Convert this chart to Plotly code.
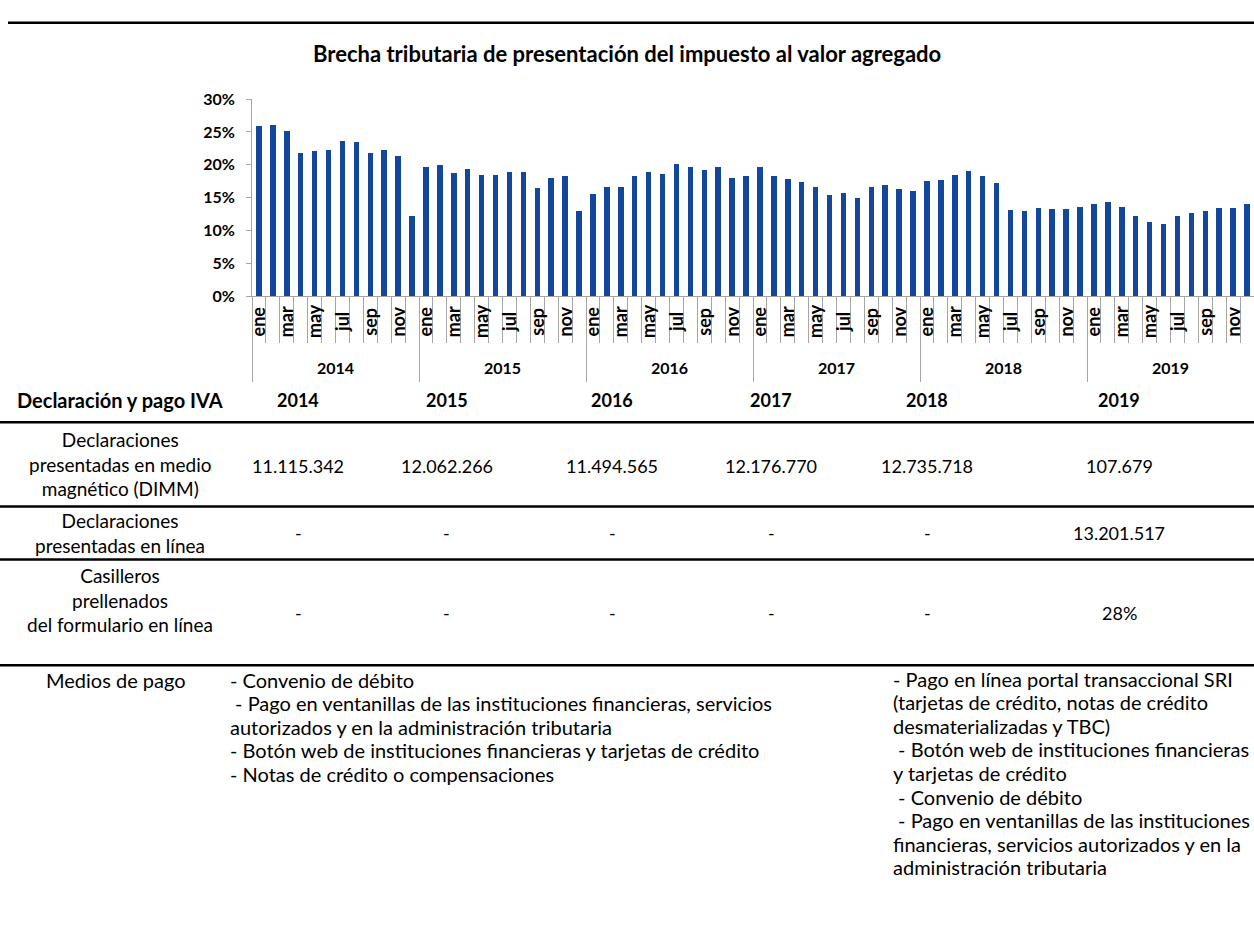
import plotly.graph_objects as go

W, H = 1254, 925

# ---------------- data ----------------
years = ["2014", "2015", "2016", "2017", "2018", "2019"]
months = ["ene", "feb", "mar", "abr", "may", "jun", "jul", "ago", "sep", "oct", "nov", "dic"]
month_labels_shown = ["ene", "", "mar", "", "may", "", "jul", "", "sep", "", "nov", ""]

gap_2014 = [25.85, 26.05, 25.2, 21.8, 22.1, 22.25, 23.55, 23.45, 21.8, 22.25, 21.35, 12.1]
gap_2015 = [19.65, 19.9, 18.75, 19.35, 18.4, 18.45, 18.85, 18.95, 16.45, 17.9, 18.3, 13.0]
gap_2016 = [15.5, 16.55, 16.55, 18.2, 18.95, 18.6, 20.1, 19.65, 19.25, 19.65, 18.0, 18.3]
gap_2017 = [19.7, 18.3, 17.8, 17.3, 16.55, 15.4, 15.7, 14.9, 16.65, 16.85, 16.25, 15.95]
gap_2018 = [17.5, 17.6, 18.45, 19.05, 18.2, 17.25, 13.1, 13.0, 13.4, 13.2, 13.2, 13.6]
gap_2019 = [14.0, 14.25, 13.55, 12.15, 11.3, 10.9, 12.2, 12.65, 13.0, 13.4, 13.4, 14.0]

y_ticks = [0, 0.05, 0.10, 0.15, 0.20, 0.25, 0.30]

title_text = "Brecha tributaria de presentación del impuesto al valor agregado"

table_header = "Declaración y pago IVA"
row_labels = [
    "Declaraciones<br>presentadas en medio<br>magnético (DIMM)",
    "Declaraciones<br>presentadas en línea",
    "Casilleros<br>prellenados<br>del formulario en línea<br> ",
]
row_dimm = ["11.115.342", "12.062.266", "11.494.565", "12.176.770", "12.735.718", "107.679"]
row_online = ["-", "-", "-", "-", "-", "13.201.517"]
row_prefilled = ["-", "-", "-", "-", "-", "28%"]

medios_label = "Medios de pago"
medios_2014_2018 = [
    "- Convenio de débito",
    "\u00a0- Pago en ventanillas de las instituciones financieras, servicios",
    "autorizados y en la administración tributaria",
    "- Botón web de instituciones financieras y tarjetas de crédito",
    "- Notas de crédito o compensaciones",
]
medios_2019 = [
    "- Pago en línea portal transaccional SRI",
    "(tarjetas de crédito, notas de crédito",
    "desmaterializadas y TBC)",
    "\u00a0- Botón web de instituciones financieras",
    "y tarjetas de crédito",
    "\u00a0- Convenio de débito",
    "\u00a0- Pago en ventanillas de las instituciones",
    "financieras, servicios autorizados y en la",
    "administración tributaria",
]

# ---------------- helpers ----------------
def px(x):
    return x / W

def py(y):
    return 1 - y / H

FONT = "Lato"
BAR = "#12479B"
GRAY = "#A6A6A6"

all_gap = gap_2014 + gap_2015 + gap_2016 + gap_2017 + gap_2018 + gap_2019
values = [v / 100 for v in all_gap]
xs = list(range(len(values)))

fig = go.Figure()
fig.add_trace(go.Bar(x=xs, y=values, marker=dict(color=BAR, line=dict(width=0)),
                     width=0.4, hoverinfo="y"))

year_bounds = [12 * k - 0.5 for k in range(len(years) + 1)]
month_bounds = [i - 0.5 for i in range(len(values) + 1)]

fig.update_layout(
    width=W, height=H,
    margin=dict(l=0, r=0, t=0, b=0),
    paper_bgcolor="white", plot_bgcolor="white",
    showlegend=False,
    bargap=0,
    xaxis=dict(
        domain=[px(252), 1.0], range=[-0.5, len(values) - 0.5],
        showline=True, linecolor=GRAY, linewidth=1,
        showgrid=False, zeroline=False,
        tickmode="array", tickvals=year_bounds, ticks="outside",
        ticklen=85, tickcolor=GRAY, tickwidth=1, showticklabels=False,
        minor=dict(tickmode="array", tickvals=month_bounds, ticks="outside",
                   ticklen=46, tickcolor=GRAY, tickwidth=1),
        fixedrange=True,
    ),
    yaxis=dict(
        domain=[py(292), py(91)], range=[0, 0.30],
        showline=True, linecolor=GRAY, linewidth=1,
        showgrid=False, zeroline=False,
        tickmode="array", tickvals=y_ticks, tickformat=".0%",
        ticks="outside", ticklen=5, tickcolor=GRAY,
        tickfont=dict(family=FONT, size=16, color="black", weight="bold"),
        ticklabelstandoff=8,
        fixedrange=True,
    ),
)

ann = []
# title
ann.append(dict(text=title_text, x=0.5, y=py(44), xref="paper", yref="paper",
                xanchor="center", yanchor="middle", showarrow=False,
                font=dict(family=FONT, size=22, color="black", weight="bold")))

# month labels
for k in range(len(years)):
    for m, lab in enumerate(month_labels_shown):
        if lab:
            ann.append(dict(text=lab, x=12 * k + m, y=py(318), xref="x", yref="paper",
                            xanchor="center", yanchor="middle", textangle=-90,
                            showarrow=False,
                            font=dict(family=FONT, size=18, color="black", weight="bold")))
# year labels
for k, yr in enumerate(years):
    ann.append(dict(text=yr, x=12 * k + 5.5, y=py(365), xref="x", yref="paper",
                    xanchor="center", yanchor="middle", showarrow=False,
                    font=dict(family=FONT, size=16, color="black", weight="bold")))

# table
col_x = [298, 447, 612, 771, 927, 1119]
label_x = 120
ann.append(dict(text=table_header, x=px(label_x), y=py(398), xref="paper", yref="paper",
                xanchor="center", yanchor="middle", showarrow=False,
                font=dict(family=FONT, size=20, color="black", weight="bold")))
for cx, yr in zip(col_x, years):
    ann.append(dict(text=yr, x=px(cx), y=py(398), xref="paper", yref="paper",
                    xanchor="center", yanchor="middle", showarrow=False,
                    font=dict(family=FONT, size=18, color="black", weight="bold")))

row_centers = [464, 534, 615]
row_value_y = [466, 534, 616]
rows = [row_dimm, row_online, row_prefilled]
text_font = dict(family=FONT, size=20, color="black")
num_font = dict(family=FONT, size=18, color="black")
for lab, yc in zip(row_labels, row_centers):
    ann.append(dict(text=lab, x=px(label_x), y=py(yc), xref="paper", yref="paper",
                    xanchor="center", yanchor="middle", align="center",
                    showarrow=False, font=dict(family=FONT, size=19, color="black")))
for row, yv in zip(rows, row_value_y):
    for cx, v in zip(col_x, row):
        ann.append(dict(text=v, x=px(cx), y=py(yv), xref="paper", yref="paper",
                        xanchor="center", yanchor="middle", showarrow=False,
                        font=num_font))

# medios de pago
ann.append(dict(text=medios_label, x=px(116), y=py(684), xref="paper", yref="paper",
                xanchor="center", yanchor="middle", showarrow=False, font=text_font))
for i, line in enumerate(medios_2014_2018):
    ann.append(dict(text=line, x=px(228), y=py(684 + 24 * i), xref="paper", yref="paper",
                    xanchor="left", yanchor="middle", showarrow=False, font=text_font))
for i, line in enumerate(medios_2019):
    ann.append(dict(text=line, x=px(891), y=py(683 + 24 * i), xref="paper", yref="paper",
                    xanchor="left", yanchor="middle", showarrow=False, font=text_font))

fig.update_layout(annotations=ann)

# rules
shapes = [dict(type="line", xref="paper", yref="paper", x0=px(8), x1=1, y0=py(13), y1=py(13),
               line=dict(color="black", width=2.5))]
for yl in [421, 507, 561, 669]:
    shapes.append(dict(type="line", xref="paper", yref="paper", x0=0, x1=1, y0=py(yl), y1=py(yl),
                       line=dict(color="black", width=2.5)))
fig.update_layout(shapes=shapes)

fig.write_html("out.html", config={"displayModeBar": False},
               post_script="document.body.style.margin='0';document.body.style.overflow='hidden';")
